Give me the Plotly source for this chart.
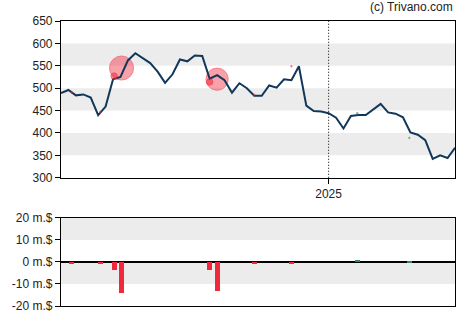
import pandas as pd
import plotly.graph_objects as go

# Weekly closing prices
week_start = "2024-04-24"
prices = [489, 496, 484, 486, 479, 440, 459, 520, 525, 562,
          578, 567, 556, 537, 512, 531, 564, 560, 573, 572,
          521, 529, 518, 490, 511, 500, 483, 483, 506, 501,
          520, 518, 549, 461, 449, 448, 444, 434, 410, 438,
          440, 440, 452, 465, 446, 443, 435, 401, 396, 384,
          342, 350, 344, 367]
dates = pd.date_range(week_start, periods=len(prices), freq="7D")

# Insider transactions: date, net value (million $), price at trade
trade_dates = ["2024-05-04", "2024-05-31", "2024-06-13", "2024-06-20",
               "2024-09-11", "2024-09-18", "2024-10-23", "2024-11-27",
               "2025-01-28", "2025-03-18"]
trade_values = [-0.6, -0.6, -3.8, -14.2, -3.8, -13.1, -0.6, -0.6, 1.0, 0.6]
trade_prices = [490, 447, 527, 545, 514, 520, 485, 549, 444, 389]

price_ticks = [300, 350, 400, 450, 500, 550, 600, 650]
volume_ticks = [-20, -10, 0, 10, 20]
volume_labels = [f"{v} m.$" for v in volume_ticks]

RED = (240, 40, 60)
GREEN = (46, 139, 87)
LINE = "#11375a"
BAND = "#ececec"


def rgba(c, a):
    return f"rgba({c[0]},{c[1]},{c[2]},{a})"


trade_x = pd.to_datetime(trade_dates)
trade_colors = [RED if v < 0 else GREEN for v in trade_values]
big = [abs(v) >= 10 for v in trade_values]


def trade_markers(keep, alpha):
    idx = [i for i, k in enumerate(keep) if k]
    return go.Scatter(
        x=[trade_x[i] for i in idx], y=[trade_prices[i] for i in idx], mode="markers",
        marker=dict(size=[max(1.7 * abs(trade_values[i]), 1.5) for i in idx],
                    color=[rgba(trade_colors[i], alpha) for i in idx],
                    line=dict(color=[rgba(trade_colors[i], alpha + 0.05) for i in idx], width=1)),
        xaxis="x", yaxis="y", showlegend=False, hoverinfo="skip")


fig = go.Figure()

# large trades sit beneath the price line, small ones on top of it
fig.add_trace(trade_markers(big, 0.62))
fig.add_trace(go.Scatter(
    x=dates, y=prices, mode="lines",
    line=dict(color=LINE, width=2), xaxis="x", yaxis="y",
    hoverinfo="skip", showlegend=False))
fig.add_trace(trade_markers([not b for b in big], 0.8))

fig.add_trace(go.Bar(
    x=trade_x, y=trade_values,
    marker=dict(color=[rgba(c, 1) for c in trade_colors], line=dict(width=0)),
    width=4.7 * 86400000, xaxis="x2", yaxis="y2",
    showlegend=False, hoverinfo="skip"))

x_range = [dates[0], dates[-1]]
font = dict(family="Liberation Sans, Arial, sans-serif", size=12, color="#222")

shapes = []
for lo, hi in [(550, 600), (450, 500), (350, 400)]:
    shapes.append(dict(type="rect", xref="x domain", yref="y", x0=0, x1=1,
                       y0=lo, y1=hi, fillcolor=BAND, line=dict(width=0), layer="below"))
for lo, hi in [(10, 20), (-10, 0)]:
    shapes.append(dict(type="rect", xref="x2 domain", yref="y2", x0=0, x1=1,
                       y0=lo, y1=hi, fillcolor=BAND, line=dict(width=0), layer="below"))
shapes.append(dict(type="line", xref="x", yref="y domain", x0="2025-01-01", x1="2025-01-01",
                   y0=0, y1=1, line=dict(color="black", width=1, dash="1px,2px")))

axis_common = dict(showline=True, linecolor="black", linewidth=1.2, mirror=True,
                   showgrid=False, zeroline=False, tickfont=font)

fig.update_layout(
    width=470, height=325,
    margin=dict(l=60, r=15, t=21, b=15),
    paper_bgcolor="white", plot_bgcolor="white",
    font=font, shapes=shapes, bargap=0,
    xaxis=dict(**axis_common, domain=[0, 1], range=x_range, anchor="y",
               tickvals=["2025-01-01"], ticktext=["2025"], ticks="outside",
               ticklen=5, tickcolor="black"),
    yaxis=dict(**axis_common, domain=[0.45, 1], range=[300, 650],
               tickvals=price_ticks, ticks="outside", ticklen=5, tickcolor="black"),
    xaxis2=dict(showline=True, linecolor="black", linewidth=1.2, mirror=True,
                showgrid=False, zeroline=False, domain=[0, 1], range=x_range,
                anchor="y2", showticklabels=False, ticks=""),
    yaxis2=dict(showline=True, linecolor="black", linewidth=1.2, mirror=True,
                showgrid=False, zeroline=True, zerolinecolor="black", zerolinewidth=1.5,
                tickfont=font, domain=[0, 0.309], range=[-20, 20],
                tickvals=volume_ticks, ticktext=volume_labels,
                ticks="outside", ticklen=5, tickcolor="black"),
    annotations=[dict(text="(c) Trivano.com", xref="paper", yref="paper",
                      x=1, y=1, xanchor="right", yanchor="bottom", yshift=5,
                      showarrow=False, font=font)],
)

fig.write_html("out.html")
